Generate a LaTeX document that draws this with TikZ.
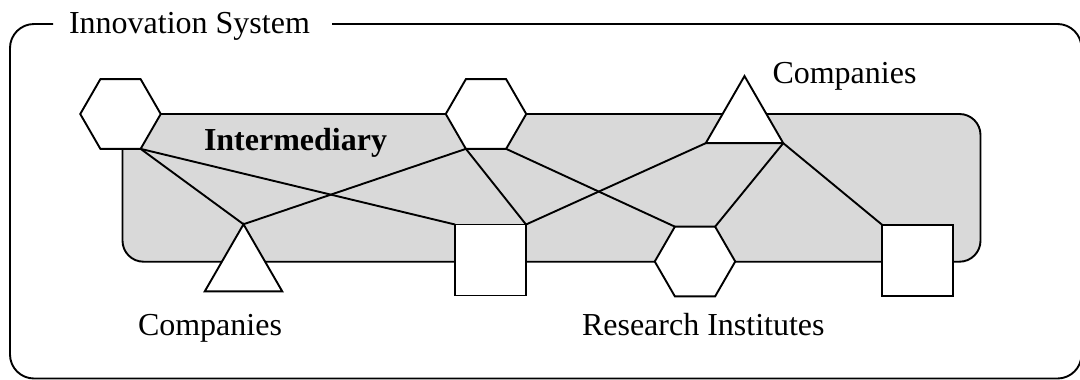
\documentclass[tikz,border=0pt]{standalone}
\usepackage{fontspec}
\setmainfont{Liberation Serif}
\usetikzlibrary{shapes.geometric}
\definecolor{intergray}{RGB}{217,217,217}
\tikzset{
  ln/.style={line width=1.9bp, black},
  hexa/.style={draw, ln, fill=white, regular polygon, regular polygon sides=6, minimum size=80.5bp, inner sep=0pt, outer sep=0pt},
  tria/.style={draw, ln, fill=white, regular polygon, regular polygon sides=3, minimum size=89.5bp, inner sep=0pt, outer sep=0pt},
  sqr/.style={draw, ln, fill=white, rectangle, minimum size=71bp, inner sep=0pt, outer sep=0pt},
  lbl/.style={font=\fontsize{32bp}{38bp}\selectfont, inner sep=0pt, outer sep=0pt, anchor=base west},
  link/.style={ln, line cap=round}
}
\begin{document}
\begin{tikzpicture}[x=1bp,y=-1bp]
\useasboundingbox (0,0) rectangle (1080,379);
% outer frame with title gap
\draw[ln, rounded corners=24bp] (332,24) -- (1081.5,24) -- (1081.5,378.5) -- (10,378.5) -- (10,24) -- (53,24);
\node[lbl] (title) at (69,33.3) {Innovation System};
% intermediary area
\draw[ln, fill=intergray, rounded corners=21bp] (122.5,114) rectangle (980.5,261.7);
\node[lbl, font=\fontsize{32bp}{38bp}\selectfont\bfseries] (inter) at (204,150) {Intermediary};
% shapes
\node[hexa] (hA) at (120.5,114) {};
\node[hexa] (hB) at (486,114) {};
\node[hexa] (hC) at (695,261.5) {};
\node[tria] (tA) at (243.5,269) {};
\node[tria] (tB) at (744.5,120.8) {};
\node[sqr] (sA) at (490.5,260) {};
\node[sqr] (sB) at (917.5,260.2) {};
% connectors
\draw[link] (hA.-60) -- (tA.90);
\draw[link] (hA.-60) -- (sA.north west);
\draw[link] (hB.-120) -- (tA.90);
\draw[link] (hB.-120) -- (sA.north east);
\draw[link] (hB.-60) -- (hC.120);
\draw[link] (tB.210) -- (sA.north east);
\draw[link] (tB.-30) -- (hC.60);
\draw[link] (tB.-30) -- (sB.north west);
% labels
\node[lbl] (compTop) at (772.5,83) {Companies};
\node[lbl] (compBot) at (138,335) {Companies};
\node[lbl] (research) at (582,335) {Research Institutes};
\end{tikzpicture}
\end{document}
